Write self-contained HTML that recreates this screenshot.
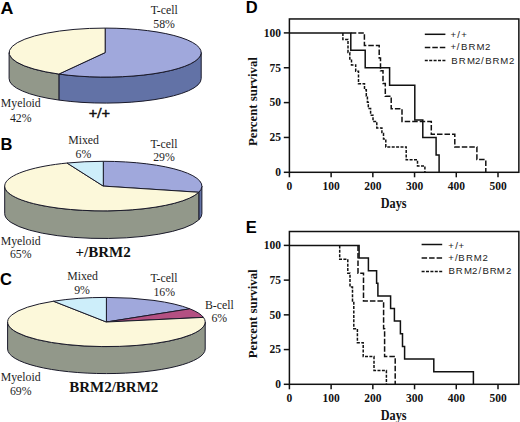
<!DOCTYPE html>
<html><head><meta charset="utf-8"><style>
html,body{margin:0;padding:0;background:#fff;width:520px;height:422px;overflow:hidden}
svg{display:block}
</style></head><body>
<svg width="520" height="422" viewBox="0 0 520 422">
<rect width="520" height="422" fill="#fff"/>
<path d="M201.20,52.60 A96.05,24.5 0 0 1 58.88,74.07 L58.88,100.07 A96.05,24.5 0 0 0 201.20,78.60 Z" fill="#6272a6" stroke="#1a1a2a" stroke-width="1" stroke-linejoin="round"/>
<path d="M58.88,74.07 A96.05,24.5 0 0 1 9.10,52.60 L9.10,78.60 A96.05,24.5 0 0 0 58.88,100.07 Z" fill="#92988a" stroke="#1a1a2a" stroke-width="1" stroke-linejoin="round"/>
<path d="M105.15,52.60 L105.15,28.10 A96.05,24.5 0 1 1 58.88,74.07 Z" fill="#a0a8dc" stroke="#1a1a2a" stroke-width="1" stroke-linejoin="round"/>
<path d="M105.15,52.60 L58.88,74.07 A96.05,24.5 0 0 1 105.15,28.10 Z" fill="#fcf8da" stroke="#1a1a2a" stroke-width="1" stroke-linejoin="round"/>
<path d="M201.90,186.10 A98.6,24.8 0 0 1 198.80,192.27 L198.80,219.87 A98.6,24.8 0 0 0 201.90,213.70 Z" fill="#6272a6" stroke="#1a1a2a" stroke-width="1" stroke-linejoin="round"/>
<path d="M198.80,192.27 A98.6,24.8 0 0 1 4.70,186.10 L4.70,213.70 A98.6,24.8 0 0 0 198.80,219.87 Z" fill="#92988a" stroke="#1a1a2a" stroke-width="1" stroke-linejoin="round"/>
<path d="M103.30,186.10 L103.30,161.30 A98.6,24.8 0 0 1 198.80,192.27 Z" fill="#a0a8dc" stroke="#1a1a2a" stroke-width="1" stroke-linejoin="round"/>
<path d="M103.30,186.10 L198.80,192.27 A98.6,24.8 0 1 1 67.00,163.04 Z" fill="#fcf8da" stroke="#1a1a2a" stroke-width="1" stroke-linejoin="round"/>
<path d="M103.30,186.10 L67.00,163.04 A98.6,24.8 0 0 1 103.30,161.30 Z" fill="#cdeefa" stroke="#1a1a2a" stroke-width="1" stroke-linejoin="round"/>
<path d="M205.20,322.00 A98.8,24.6 0 0 1 7.60,322.00 L7.60,349.00 A98.8,24.6 0 0 0 205.20,349.00 Z" fill="#92988a" stroke="#1a1a2a" stroke-width="1" stroke-linejoin="round"/>
<path d="M106.40,322.00 L106.40,297.40 A98.8,24.6 0 0 1 189.82,308.82 Z" fill="#a0a8dc" stroke="#1a1a2a" stroke-width="1" stroke-linejoin="round"/>
<path d="M106.40,322.00 L189.82,308.82 A98.8,24.6 0 0 1 203.45,317.39 Z" fill="#b45082" stroke="#1a1a2a" stroke-width="1" stroke-linejoin="round"/>
<path d="M106.40,322.00 L203.45,317.39 A98.8,24.6 0 1 1 53.46,301.23 Z" fill="#fcf8da" stroke="#1a1a2a" stroke-width="1" stroke-linejoin="round"/>
<path d="M106.40,322.00 L53.46,301.23 A98.8,24.6 0 0 1 106.40,297.40 Z" fill="#cdeefa" stroke="#1a1a2a" stroke-width="1" stroke-linejoin="round"/>
<text x="164.2" y="14.1" font-family="&quot;Liberation Serif&quot;, serif" font-size="11.8" font-weight="normal" text-anchor="middle" fill="#1e1e1e" >T-cell</text>
<text x="164.1" y="28.3" font-family="&quot;Liberation Serif&quot;, serif" font-size="11.8" font-weight="normal" text-anchor="middle" fill="#1e1e1e" >58%</text>
<text x="20.8" y="107.1" font-family="&quot;Liberation Serif&quot;, serif" font-size="11.8" font-weight="normal" text-anchor="middle" fill="#1e1e1e" >Myeloid</text>
<text x="20.7" y="121.5" font-family="&quot;Liberation Serif&quot;, serif" font-size="11.8" font-weight="normal" text-anchor="middle" fill="#1e1e1e" >42%</text>
<text x="83.6" y="144.1" font-family="&quot;Liberation Serif&quot;, serif" font-size="11.8" font-weight="normal" text-anchor="middle" fill="#1e1e1e" >Mixed</text>
<text x="83.4" y="158.1" font-family="&quot;Liberation Serif&quot;, serif" font-size="11.8" font-weight="normal" text-anchor="middle" fill="#1e1e1e" >6%</text>
<text x="164" y="147.5" font-family="&quot;Liberation Serif&quot;, serif" font-size="11.8" font-weight="normal" text-anchor="middle" fill="#1e1e1e" >T-cell</text>
<text x="164" y="161" font-family="&quot;Liberation Serif&quot;, serif" font-size="11.8" font-weight="normal" text-anchor="middle" fill="#1e1e1e" >29%</text>
<text x="20.7" y="244.7" font-family="&quot;Liberation Serif&quot;, serif" font-size="11.8" font-weight="normal" text-anchor="middle" fill="#1e1e1e" >Myeloid</text>
<text x="20.7" y="257.7" font-family="&quot;Liberation Serif&quot;, serif" font-size="11.8" font-weight="normal" text-anchor="middle" fill="#1e1e1e" >65%</text>
<text x="82.6" y="280" font-family="&quot;Liberation Serif&quot;, serif" font-size="11.8" font-weight="normal" text-anchor="middle" fill="#1e1e1e" >Mixed</text>
<text x="82" y="294" font-family="&quot;Liberation Serif&quot;, serif" font-size="11.8" font-weight="normal" text-anchor="middle" fill="#1e1e1e" >9%</text>
<text x="164" y="282.4" font-family="&quot;Liberation Serif&quot;, serif" font-size="11.8" font-weight="normal" text-anchor="middle" fill="#1e1e1e" >T-cell</text>
<text x="164.2" y="295.9" font-family="&quot;Liberation Serif&quot;, serif" font-size="11.8" font-weight="normal" text-anchor="middle" fill="#1e1e1e" >16%</text>
<text x="219.3" y="308.5" font-family="&quot;Liberation Serif&quot;, serif" font-size="11.8" font-weight="normal" text-anchor="middle" fill="#1e1e1e" >B-cell</text>
<text x="219.3" y="321.9" font-family="&quot;Liberation Serif&quot;, serif" font-size="11.8" font-weight="normal" text-anchor="middle" fill="#1e1e1e" >6%</text>
<text x="20.7" y="381.3" font-family="&quot;Liberation Serif&quot;, serif" font-size="11.8" font-weight="normal" text-anchor="middle" fill="#1e1e1e" >Myeloid</text>
<text x="20.7" y="394.8" font-family="&quot;Liberation Serif&quot;, serif" font-size="11.8" font-weight="normal" text-anchor="middle" fill="#1e1e1e" >69%</text>
<text x="99.4" y="118.2" font-family="&quot;Liberation Serif&quot;, serif" font-size="15" font-weight="bold" text-anchor="middle" fill="#111" stroke="#111" stroke-width="0.5">+/+</text>
<text x="103.1" y="257.4" font-family="&quot;Liberation Serif&quot;, serif" font-size="15" font-weight="bold" text-anchor="middle" fill="#111" >+/BRM2</text>
<text x="113.8" y="392.4" font-family="&quot;Liberation Serif&quot;, serif" font-size="15" font-weight="bold" text-anchor="middle" fill="#111" >BRM2/BRM2</text>
<text x="0.5" y="14.1" font-family="&quot;Liberation Sans&quot;, sans-serif" font-size="16.5" font-weight="bold" text-anchor="start" fill="#000" textLength="12.9" lengthAdjust="spacingAndGlyphs">A</text>
<text x="0.5" y="149.8" font-family="&quot;Liberation Sans&quot;, sans-serif" font-size="16.5" font-weight="bold" text-anchor="start" fill="#000" >B</text>
<text x="0" y="284.6" font-family="&quot;Liberation Sans&quot;, sans-serif" font-size="16.5" font-weight="bold" text-anchor="start" fill="#000" >C</text>
<text x="245.8" y="12.9" font-family="&quot;Liberation Sans&quot;, sans-serif" font-size="16.5" font-weight="bold" text-anchor="start" fill="#000" >D</text>
<text x="245.8" y="233.2" font-family="&quot;Liberation Sans&quot;, sans-serif" font-size="16.5" font-weight="bold" text-anchor="start" fill="#000" >E</text>
<rect x="289.4" y="18.96" width="229.46" height="153.34" fill="none" stroke="#111" stroke-width="1.5"/>
<line x1="283.80" y1="172.30" x2="289.4" y2="172.30" stroke="#111" stroke-width="1.5"/>
<text x="280.9" y="176.10" font-family="&quot;Liberation Serif&quot;, serif" font-size="11.5" font-weight="bold" text-anchor="end" fill="#111" >0</text>
<line x1="283.80" y1="137.45" x2="289.4" y2="137.45" stroke="#111" stroke-width="1.5"/>
<text x="280.9" y="141.25" font-family="&quot;Liberation Serif&quot;, serif" font-size="11.5" font-weight="bold" text-anchor="end" fill="#111" >25</text>
<line x1="283.80" y1="102.60" x2="289.4" y2="102.60" stroke="#111" stroke-width="1.5"/>
<text x="280.9" y="106.40" font-family="&quot;Liberation Serif&quot;, serif" font-size="11.5" font-weight="bold" text-anchor="end" fill="#111" >50</text>
<line x1="283.80" y1="67.75" x2="289.4" y2="67.75" stroke="#111" stroke-width="1.5"/>
<text x="280.9" y="71.55" font-family="&quot;Liberation Serif&quot;, serif" font-size="11.5" font-weight="bold" text-anchor="end" fill="#111" >75</text>
<line x1="283.80" y1="32.90" x2="289.4" y2="32.90" stroke="#111" stroke-width="1.5"/>
<text x="280.9" y="36.70" font-family="&quot;Liberation Serif&quot;, serif" font-size="11.5" font-weight="bold" text-anchor="end" fill="#111" >100</text>
<line x1="289.40" y1="172.30" x2="289.40" y2="177.30" stroke="#111" stroke-width="1.5"/>
<text x="289.40" y="190.30" font-family="&quot;Liberation Serif&quot;, serif" font-size="11.5" font-weight="bold" text-anchor="middle" fill="#111" >0</text>
<line x1="331.12" y1="172.30" x2="331.12" y2="177.30" stroke="#111" stroke-width="1.5"/>
<text x="331.12" y="190.30" font-family="&quot;Liberation Serif&quot;, serif" font-size="11.5" font-weight="bold" text-anchor="middle" fill="#111" >100</text>
<line x1="372.84" y1="172.30" x2="372.84" y2="177.30" stroke="#111" stroke-width="1.5"/>
<text x="372.84" y="190.30" font-family="&quot;Liberation Serif&quot;, serif" font-size="11.5" font-weight="bold" text-anchor="middle" fill="#111" >200</text>
<line x1="414.56" y1="172.30" x2="414.56" y2="177.30" stroke="#111" stroke-width="1.5"/>
<text x="414.56" y="190.30" font-family="&quot;Liberation Serif&quot;, serif" font-size="11.5" font-weight="bold" text-anchor="middle" fill="#111" >300</text>
<line x1="456.28" y1="172.30" x2="456.28" y2="177.30" stroke="#111" stroke-width="1.5"/>
<text x="456.28" y="190.30" font-family="&quot;Liberation Serif&quot;, serif" font-size="11.5" font-weight="bold" text-anchor="middle" fill="#111" >400</text>
<line x1="498.00" y1="172.30" x2="498.00" y2="177.30" stroke="#111" stroke-width="1.5"/>
<text x="498.00" y="190.30" font-family="&quot;Liberation Serif&quot;, serif" font-size="11.5" font-weight="bold" text-anchor="middle" fill="#111" >500</text>
<text x="393.70" y="207.60" font-family="&quot;Liberation Serif&quot;, serif" font-size="14.0" font-weight="bold" text-anchor="middle" fill="#111" textLength="25.8" lengthAdjust="spacingAndGlyphs">Days</text>
<text x="0" y="0" font-family="&quot;Liberation Serif&quot;, serif" font-size="12.8" font-weight="bold" text-anchor="middle" fill="#111" transform="translate(256.8,101.60) rotate(-90)">Percent survival</text>
<polyline points="342.90,32.90 342.90,39.50 348.00,39.50 348.00,52.50 349.80,52.50 349.80,59.00 351.50,59.00 351.50,64.90 355.70,64.90 355.70,71.30 358.50,71.30 358.50,83.70 364.50,83.70 364.50,89.80 366.30,89.80 366.30,96.00 367.40,96.00 367.40,102.30 368.30,102.30 368.30,108.60 370.60,108.60 370.60,115.20 373.00,115.20 373.00,121.40 376.80,121.40 376.80,127.90 381.90,127.90 381.90,133.50 383.50,133.50 383.50,139.10 385.80,139.10 385.80,146.90 406.20,146.90 406.20,159.80 417.50,159.80 417.50,166.00 424.90,166.00 424.90,172.30" fill="none" stroke="#111" stroke-width="1.5" stroke-dasharray="3 1.4"/>
<polyline points="350.80,32.90 364.40,32.90 364.40,45.40 379.20,45.40 379.20,58.10 380.50,58.10 380.50,70.80 383.00,70.80 383.00,83.50 385.30,83.50 385.30,96.20 391.20,96.20 391.20,108.80 402.00,108.80 402.00,121.50 431.30,121.50 431.30,134.20 454.80,134.20 454.80,146.90 476.90,146.90 476.90,159.60 485.80,159.60 485.80,172.30" fill="none" stroke="#111" stroke-width="1.5" stroke-dasharray="5.5 2"/>
<polyline points="289.40,32.90 350.80,32.90 350.80,50.20 365.20,50.20 365.20,67.70 389.60,67.70 389.60,85.20 414.80,85.20 414.80,120.00 422.80,120.00 422.80,137.40 436.10,137.40 436.10,154.90 439.10,154.90 439.10,172.30" fill="none" stroke="#111" stroke-width="1.5" />
<line x1="424.8" y1="34.30" x2="445.40000000000003" y2="34.30" stroke="#111" stroke-width="1.5" />
<text x="450.60 457.30 461.20" y="37.80" font-family="&quot;Liberation Sans&quot;, sans-serif" font-size="9.6" fill="#222">+/+</text>
<line x1="424.8" y1="47.40" x2="445.40000000000003" y2="47.40" stroke="#111" stroke-width="1.5" stroke-dasharray="5.5 2"/>
<text x="450.60 456.80 461.00 468.45 476.50 484.90" y="49.70" font-family="&quot;Liberation Sans&quot;, sans-serif" font-size="9.6" fill="#222">+/BRM2</text>
<line x1="424.8" y1="60.50" x2="445.40000000000003" y2="60.50" stroke="#111" stroke-width="1.5" stroke-dasharray="3 1.4"/>
<text x="451.30 458.85 466.90 475.10 481.10 485.20 492.55 500.20 509.00" y="63.70" font-family="&quot;Liberation Sans&quot;, sans-serif" font-size="9.6" fill="#222">BRM2/BRM2</text>
<rect x="289.4" y="231.51" width="229.46" height="152.79" fill="none" stroke="#111" stroke-width="1.5"/>
<line x1="283.80" y1="384.30" x2="289.4" y2="384.30" stroke="#111" stroke-width="1.5"/>
<text x="280.9" y="388.10" font-family="&quot;Liberation Serif&quot;, serif" font-size="11.5" font-weight="bold" text-anchor="end" fill="#111" >0</text>
<line x1="283.80" y1="349.57" x2="289.4" y2="349.57" stroke="#111" stroke-width="1.5"/>
<text x="280.9" y="353.38" font-family="&quot;Liberation Serif&quot;, serif" font-size="11.5" font-weight="bold" text-anchor="end" fill="#111" >25</text>
<line x1="283.80" y1="314.85" x2="289.4" y2="314.85" stroke="#111" stroke-width="1.5"/>
<text x="280.9" y="318.65" font-family="&quot;Liberation Serif&quot;, serif" font-size="11.5" font-weight="bold" text-anchor="end" fill="#111" >50</text>
<line x1="283.80" y1="280.12" x2="289.4" y2="280.12" stroke="#111" stroke-width="1.5"/>
<text x="280.9" y="283.93" font-family="&quot;Liberation Serif&quot;, serif" font-size="11.5" font-weight="bold" text-anchor="end" fill="#111" >75</text>
<line x1="283.80" y1="245.40" x2="289.4" y2="245.40" stroke="#111" stroke-width="1.5"/>
<text x="280.9" y="249.20" font-family="&quot;Liberation Serif&quot;, serif" font-size="11.5" font-weight="bold" text-anchor="end" fill="#111" >100</text>
<line x1="289.40" y1="384.30" x2="289.40" y2="389.30" stroke="#111" stroke-width="1.5"/>
<text x="289.40" y="402.30" font-family="&quot;Liberation Serif&quot;, serif" font-size="11.5" font-weight="bold" text-anchor="middle" fill="#111" >0</text>
<line x1="331.12" y1="384.30" x2="331.12" y2="389.30" stroke="#111" stroke-width="1.5"/>
<text x="331.12" y="402.30" font-family="&quot;Liberation Serif&quot;, serif" font-size="11.5" font-weight="bold" text-anchor="middle" fill="#111" >100</text>
<line x1="372.84" y1="384.30" x2="372.84" y2="389.30" stroke="#111" stroke-width="1.5"/>
<text x="372.84" y="402.30" font-family="&quot;Liberation Serif&quot;, serif" font-size="11.5" font-weight="bold" text-anchor="middle" fill="#111" >200</text>
<line x1="414.56" y1="384.30" x2="414.56" y2="389.30" stroke="#111" stroke-width="1.5"/>
<text x="414.56" y="402.30" font-family="&quot;Liberation Serif&quot;, serif" font-size="11.5" font-weight="bold" text-anchor="middle" fill="#111" >300</text>
<line x1="456.28" y1="384.30" x2="456.28" y2="389.30" stroke="#111" stroke-width="1.5"/>
<text x="456.28" y="402.30" font-family="&quot;Liberation Serif&quot;, serif" font-size="11.5" font-weight="bold" text-anchor="middle" fill="#111" >400</text>
<line x1="498.00" y1="384.30" x2="498.00" y2="389.30" stroke="#111" stroke-width="1.5"/>
<text x="498.00" y="402.30" font-family="&quot;Liberation Serif&quot;, serif" font-size="11.5" font-weight="bold" text-anchor="middle" fill="#111" >500</text>
<text x="393.70" y="419.60" font-family="&quot;Liberation Serif&quot;, serif" font-size="14.0" font-weight="bold" text-anchor="middle" fill="#111" textLength="25.8" lengthAdjust="spacingAndGlyphs">Days</text>
<text x="0" y="0" font-family="&quot;Liberation Serif&quot;, serif" font-size="12.8" font-weight="bold" text-anchor="middle" fill="#111" transform="translate(256.8,313.85) rotate(-90)">Percent survival</text>
<polyline points="339.70,245.40 339.70,259.29 347.80,259.29 347.80,273.18 350.00,273.18 350.00,287.07 352.50,287.07 352.50,300.96 353.80,300.96 353.80,328.74 357.40,328.74 357.40,342.63 363.20,342.63 363.20,356.52 374.00,356.52 374.00,370.41 386.40,370.41 386.40,384.30" fill="none" stroke="#111" stroke-width="1.5" stroke-dasharray="3 1.4"/>
<polyline points="358.00,245.40 358.00,273.18 363.50,273.18 363.50,300.96 383.60,300.96 383.60,328.74 384.60,328.74 384.60,356.52 395.20,356.52 395.20,384.30" fill="none" stroke="#111" stroke-width="1.5" stroke-dasharray="5.5 2"/>
<polyline points="289.40,245.40 359.10,245.40 359.10,258.04 368.40,258.04 368.40,270.68 376.60,270.68 376.60,283.32 377.90,283.32 377.90,295.96 390.60,295.96 390.60,308.60 394.40,308.60 394.40,321.10 400.40,321.10 400.40,333.74 402.50,333.74 402.50,346.38 404.60,346.38 404.60,359.02 433.80,359.02 433.80,371.66 473.40,371.66 473.40,384.30" fill="none" stroke="#111" stroke-width="1.5" />
<line x1="421.6" y1="244.50" x2="442.20000000000005" y2="244.50" stroke="#111" stroke-width="1.5" />
<text x="448.20 455.20 458.40" y="248.60" font-family="&quot;Liberation Sans&quot;, sans-serif" font-size="9.6" fill="#222">+/+</text>
<line x1="421.6" y1="257.95" x2="442.20000000000005" y2="257.95" stroke="#111" stroke-width="1.5" stroke-dasharray="5.5 2"/>
<text x="448.20 455.00 458.20 465.95 473.80 482.60" y="261.15" font-family="&quot;Liberation Sans&quot;, sans-serif" font-size="9.6" fill="#222">+/BRM2</text>
<line x1="421.6" y1="271.40" x2="442.20000000000005" y2="271.40" stroke="#111" stroke-width="1.5" stroke-dasharray="3 1.4"/>
<text x="448.50 455.75 463.90 472.00 478.50 482.60 489.75 496.70 506.00" y="274.20" font-family="&quot;Liberation Sans&quot;, sans-serif" font-size="9.6" fill="#222">BRM2/BRM2</text>
</svg>
</body></html>
